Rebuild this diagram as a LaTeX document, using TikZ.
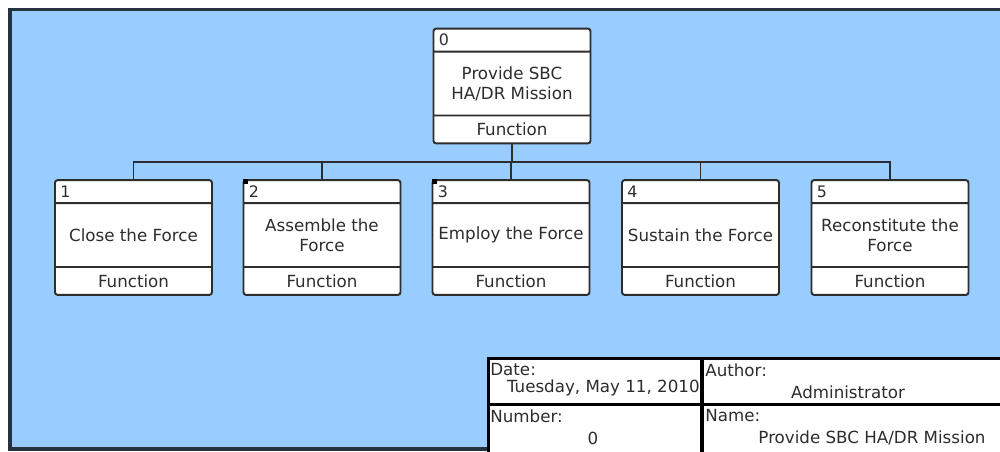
\documentclass[tikz,border=0pt]{standalone}
\usepackage{fontspec}
\setmainfont{DejaVu Sans}
\usetikzlibrary{shapes.multipart}
\definecolor{sheet}{RGB}{153,204,255}
\definecolor{rim}{RGB}{38,50,64}
\definecolor{ink}{RGB}{45,45,45}
% header / name / kind parts of one function box
\newcommand{\fparts}[2]{%
  \parbox[c][0.42cm]{3.14cm}{\small\hspace*{3pt}#1}%
  \nodepart{two}\parbox[c][1.24cm]{3.14cm}{\centering #2}%
  \nodepart{three}\parbox[c][0.52cm]{3.14cm}{\centering Function}}

\begin{document}
\begin{tikzpicture}[x=0.02cm,y=-0.02cm,
    every node/.style={font=\fontsize{9.5}{11.4}\selectfont, text=ink},
    funcbox/.style={rectangle split, rectangle split parts=3, draw=ink, fill=white,
      line width=1.1pt, rounded corners=1.5pt, inner sep=0pt},
    cell/.style={draw=black, fill=white, line width=1.7pt, inner sep=0pt},
    lbl/.style={inner sep=0pt}]
    \useasboundingbox (0,0) rectangle (1000,451);
    \clip (0,0) rectangle (1000,451);
    \draw[fill=sheet, draw=rim, line width=1.8pt] (10,9.5) rectangle (1040,449);

    \node[funcbox] (p0) at (512,86) {\fparts{0}{Provide SBC\\HA/DR Mission}};
    \node[funcbox] (p1) at (133.5,237.5) {\fparts{1}{Close the Force}};
    \node[funcbox] (p2) at (322,237.5) {\fparts{2}{Assemble the\\Force}};
    \node[funcbox] (p3) at (511,237.5) {\fparts{3}{Employ the Force}};
    \node[funcbox] (p4) at (700.5,237.5) {\fparts{4}{Sustain the Force}};
    \node[funcbox] (p5) at (890,237.5) {\fparts{5}{Reconstitute the\\Force}};
    \fill[black] (p2.north west) rectangle ++(5,5);
    \fill[black] (p3.north west) rectangle ++(5,5);

    % tree lines
    \coordinate (bus) at (512,162);
    \begin{scope}[draw=ink, line width=1.1pt]
    \draw (p0.south) -- (bus);
    \draw (p1.north) |- (bus) -| (p5.north);
    \draw (p2.north) -- (p2.north |- bus);
    \draw (p3.north) -- (p3.north |- bus);
    \draw (p4.north) -- (p4.north |- bus);
    \end{scope}

    % title block
    \node[cell, minimum width=4.28cm, minimum height=0.92cm] (date) at (595,381) {};
    \node[cell, minimum width=6.6cm, minimum height=0.92cm] (author) at (867,381) {};
    \node[cell, minimum width=4.28cm, minimum height=1.0cm] (number) at (595,429) {};
    \node[cell, minimum width=6.6cm, minimum height=1.0cm] (name) at (867,429) {};

    \node[lbl, anchor=west] (datel) at (490,370) {Date:};
    \node[lbl, anchor=east] (datev) at (700,388) {Tuesday, May 11, 2010};
    \node[lbl, anchor=west] (authorl) at (705,370) {Author:};
    \node[lbl] (authorv) at (848,392) {Administrator};
    \node[lbl, anchor=west] (numberl) at (490,416) {Number:};
    \node[lbl] (numberv) at (593,438) {0};
    \node[lbl, anchor=west] (namel) at (705,416) {Name:};
    \node[lbl] (namev) at (872,438) {Provide SBC HA/DR Mission};
\end{tikzpicture}
\end{document}
